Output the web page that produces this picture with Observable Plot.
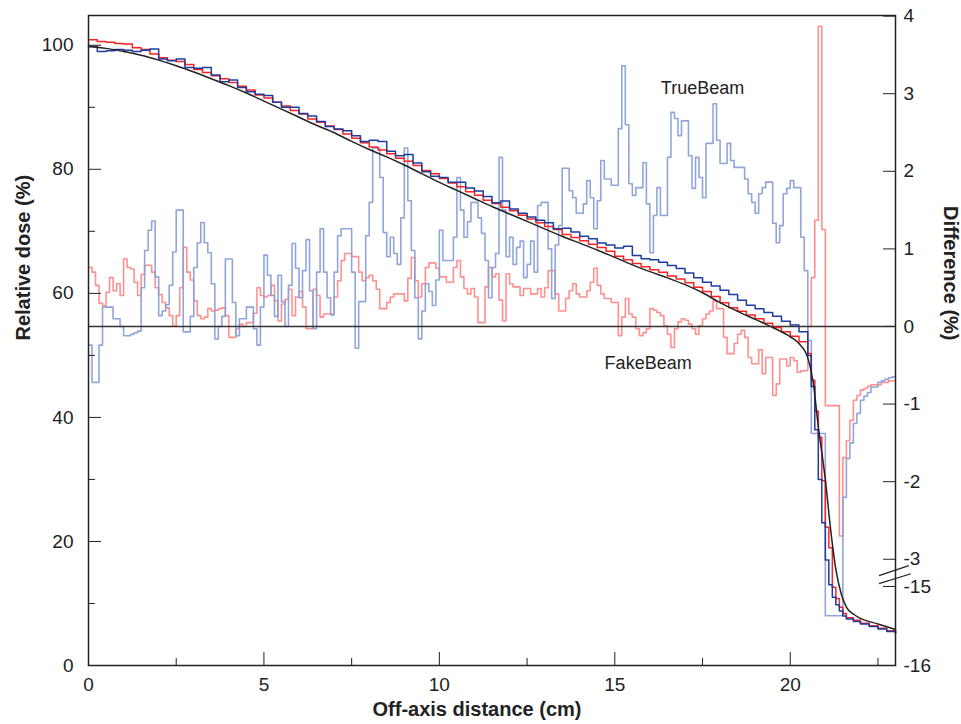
<!DOCTYPE html>
<html><head><meta charset="utf-8">
<script src="https://cdn.jsdelivr.net/npm/d3@7"></script>
<script src="https://cdn.jsdelivr.net/npm/@observablehq/plot@0.6"></script>
<style>body{margin:0;background:#fff;}</style>
</head><body><div id="chart"></div>
<script>
// ---- Difference curves (%), sampled every 0.1 cm from 0 to 23 cm ----
const DIFF_STEP = 0.1;
const trueBeamDiff = [
 -0.24,-0.72,-0.72,-0.24,0.25,0.25,0.25,0.1,0.1,0.0,
 -0.12,-0.12,-0.1,-0.08,-0.06,0.5,0.98,1.24,1.36,0.64,
 0.14,0.2,0.28,0.53,0.96,1.5,1.5,-0.07,-0.07,0.13,
 0.76,1.08,1.34,1.08,0.95,0.55,-0.16,0.0,0.13,0.87,
 0.87,0.31,-0.12,0.1,0.1,0.25,0.25,-0.03,-0.24,0.25,
 0.92,0.66,0.4,0.13,0.66,0.32,0.0,0.53,1.07,0.75,
 0.37,0.72,1.12,0.46,-0.03,0.7,1.26,0.7,0.37,0.15,
 0.7,1.17,1.26,1.26,1.26,0.7,-0.28,0.32,0.32,1.17,
 1.6,2.3,2.3,1.92,1.21,0.9,1.15,0.94,0.8,1.4,
 2.3,1.62,0.98,0.37,-0.16,0.2,0.55,0.45,0.27,0.6,
 1.24,0.85,0.85,0.85,1.15,1.92,1.5,1.15,1.35,1.6,
 1.6,1.4,1.2,0.85,0.37,0.76,0.94,2.18,1.5,0.9,
 1.15,0.8,1.02,1.1,0.63,0.8,1.1,0.7,1.56,1.6,
 1.6,1.0,0.36,1.05,1.3,2.04,2.04,1.75,1.66,1.46,
 1.46,1.58,1.88,1.66,1.26,1.62,2.14,1.9,1.9,1.82,
 1.82,2.55,3.36,2.6,1.84,1.69,1.79,1.79,2.11,1.58,
 0.95,1.43,1.79,1.43,1.43,2.18,2.76,2.68,2.46,2.65,
 2.65,2.2,1.78,2.18,1.92,1.66,2.36,2.36,2.87,2.4,
 2.1,2.1,2.36,2.14,2.05,2.05,2.05,1.9,1.71,1.6,
 1.46,1.71,1.79,1.86,1.86,1.33,1.08,1.3,1.71,1.78,
 1.88,1.79,1.79,1.15,0.72,-0.18,-1.38,-1.38,-1.38,-1.38,
 -15.37,-15.37,-15.37,-15.37,-15.37,-2.2,-1.7,-1.5,-1.25,-1.12,
 -0.95,-0.9,-0.85,-0.78,-0.78,-0.72,-0.7,-0.68,-0.66,-0.65,
 -0.65
];
const fakeBeamDiff = [
 0.76,0.7,0.53,0.3,0.27,0.44,0.63,0.46,0.55,0.4,
 0.87,0.76,0.74,0.57,0.4,0.67,0.79,0.79,0.7,0.5,
 0.41,0.31,0.24,0.14,0.01,0.14,0.5,1.02,0.7,0.6,
 0.33,0.14,0.1,0.12,0.23,0.2,0.21,0.23,0.24,0.14,
 -0.14,-0.14,-0.03,0.03,0.0,0.05,0.05,0.17,0.5,0.4,
 0.38,0.4,0.53,0.33,0.07,0.29,0.35,0.48,0.14,0.38,
 0.45,0.25,-0.03,-0.03,0.48,0.4,0.12,0.16,0.16,0.16,
 0.38,0.59,0.85,0.94,0.94,0.9,0.9,0.7,0.59,0.63,
 0.66,0.59,0.48,0.23,0.23,0.31,0.38,0.42,0.42,0.42,
 0.33,0.62,0.89,0.59,0.38,0.55,0.76,0.82,0.82,0.75,
 0.64,0.64,0.57,0.57,0.76,0.85,0.64,0.49,0.42,0.49,
 0.38,0.05,0.05,0.51,0.76,0.64,0.68,0.34,0.07,0.68,
 0.55,0.51,0.51,0.4,0.49,0.49,0.42,0.42,0.49,0.38,
 0.5,0.72,0.72,0.42,0.2,0.2,0.36,0.46,0.55,0.42,
 0.38,0.38,0.46,0.57,0.75,0.53,0.42,0.36,0.36,0.31,
 0.31,-0.12,0.12,0.36,0.16,0.12,-0.03,-0.12,-0.08,-0.03,
 0.23,0.21,0.18,0.14,0.01,-0.1,-0.27,-0.03,0.06,0.1,
 0.08,0.03,-0.03,-0.1,0.01,0.1,0.16,0.2,0.33,0.23,
 0.23,-0.14,-0.35,-0.35,-0.22,-0.1,-0.05,-0.14,-0.4,-0.48,
 -0.48,-0.3,-0.61,-0.4,-0.4,-0.89,-0.74,-0.42,-0.42,-0.51,
 -0.4,-0.44,-0.59,-0.57,-0.57,0.0,0.63,1.37,3.87,1.25,
 -1.02,-1.02,-1.02,-1.02,-2.7,-1.69,-1.47,-1.21,-0.95,-0.89,
 -0.82,-0.8,-0.77,-0.75,-0.75,-0.75,-0.72,-0.72,-0.7,-0.7,
 -0.7
];

// ---- Relative dose (%), sampled every 0.25 cm from 0 to 20.25 cm ----
const DOSE_STEP = 0.25;
const trueBeamDose = [
 99.8,99.0,99.1,99.3,99.2,99.0,99.2,99.4,97.8,97.5,97.8,96.4,96.3,96.4,95.2,94.1,
 94.4,93.2,92.5,92.1,91.9,90.8,90.0,90.0,89.0,88.6,87.7,86.9,86.5,86.2,85.4,84.5,
 84.7,84.5,82.9,82.2,82.4,81.0,79.6,78.9,78.7,77.9,77.9,77.0,76.5,75.6,74.6,74.9,
 73.6,72.9,72.3,71.8,71.4,70.4,70.5,69.9,69.2,68.8,68.1,67.8,67.3,67.6,66.1,65.6,
 65.4,65.0,64.5,64.0,63.3,62.5,61.8,61.2,60.5,59.8,58.9,58.1,57.5,56.9,56.3,55.5,
 54.9,53.8
];
const fakeBeamDose = [
 100.9,100.6,100.5,100.3,100.2,99.6,99.3,98.6,98.0,97.6,97.4,96.9,96.1,95.6,95.1,94.6,
 94.0,93.4,92.8,92.0,91.5,90.8,90.2,89.5,88.9,88.1,87.6,87.0,86.4,85.7,85.0,84.3,
 83.6,83.1,82.5,81.8,81.3,80.6,79.8,79.3,78.5,77.8,77.2,76.4,75.8,75.0,74.5,73.9,
 73.3,72.6,72.0,71.4,70.8,70.3,69.5,69.0,68.5,67.9,67.4,66.8,66.0,65.4,64.8,64.3,
 63.8,63.4,62.8,62.3,61.7,61.0,60.3,59.5,58.5,57.7,57.1,56.5,55.9,55.2,54.5,53.8,
 53.1,52.2
];
// penumbra / tail of the measured profiles
const tailX        = [20.5,20.6,20.7,20.8,20.9,21.0,21.1,21.2,21.3,21.4,21.5,21.6,21.8,22.0,22.25,22.5,22.75,23.0];
const fakeBeamTail = [50.3,46.0,41.0,36.8,29.8,22.3,19.0,12.6,10.8,9.4,8.4,7.7,7.3,6.8,6.4,6.0,5.6,5.2];
const trueBeamTail = [50.0,45.0,38.0,30.0,23.0,17.0,13.0,11.0,9.8,8.8,8.0,7.5,7.1,6.7,6.3,5.9,5.5,5.2];

// reference (smooth black) profile
const refX    = [0,0.5,1,1.5,2,2.5,3,3.5,4,4.5,5,5.5,6,6.5,7,7.5,8,8.5,9,9.5,10,10.5,11,11.5,12,12.5,13,13.5,14,14.5,15,15.5,16,16.5,17,17.5,18,18.5,19,19.5,20,20.25,20.5,20.65,20.8,21.0,21.15,21.3,21.45,21.6,21.8,22.0,22.5,23.0];
const refDose = [99.8,99.5,99.0,98.4,97.6,96.7,95.7,94.6,93.5,92.3,91.0,89.7,88.4,87.1,85.9,84.5,83.2,82.0,80.7,79.3,77.9,76.6,75.3,74.0,72.8,71.6,70.4,69.2,68.1,67.0,65.8,64.6,63.5,62.5,61.4,60.1,58.5,57.1,55.8,54.5,53.0,51.9,49.6,45.8,38.5,30.0,22.0,15.5,11.6,9.4,8.3,7.6,6.7,5.8];

// axes
const xMajorTicks = [0,5,10,15,20];
const xMinorTicks = [2.5,7.5,12.5,17.5,22.5];
const leftMajorTicks = [0,20,40,60,80,100];
const leftMinorTicks = [10,30,50,70,90];
const rightTicks = [-16,-15,-3,-2,-1,0,1,2,3,4];
const seriesLabels = [{name:"TrueBeam", x:17.5, y:93}, {name:"FakeBeam", x:15.95, y:48.7}];
const breakMarks = [{x1:22.53,y1:14.5,x2:23.38,y2:16.1},{x1:22.53,y1:13.2,x2:23.44,y2:14.8}];

// secondary (broken) axis: difference % -> left-axis units
const Y_MAX = 104.8, DIFF_ZERO = 54.66, DIFF_UNIT = 12.51, LOW_UNIT = 12.74;
function diffToY(d) {
  if (d >= -3) return DIFF_ZERO + DIFF_UNIT * d;
  if (d <= -15) return (d + 16) * LOW_UNIT;
  const top = DIFF_ZERO - 3 * DIFF_UNIT, bot = LOW_UNIT;
  return bot + (d + 15) / 12 * (top - bot);
}
const rightTickPos = rightTicks.map(diffToY);
const rightLabel = new Map(rightTicks.map(t => [diffToY(t), String(t)]));

const diffRows = (vals) => vals.map((d, i) => ({x: +(i * DIFF_STEP).toFixed(2), y: diffToY(d)}));
const doseRows = (vals, tail) => vals.map((v, i) => ({x: i * DOSE_STEP, y: v}))
  .concat(tail.map((v, i) => ({x: tailX[i], y: v})));
const refRows = refX.map((x, i) => ({x, y: refDose[i]}));

const font = "'Liberation Sans', Arial, sans-serif";
const chart = Plot.plot({
  width: 961, height: 724,
  marginLeft: 88, marginRight: 66, marginTop: 15, marginBottom: 59,
  x: {domain: [0, 23]},
  y: {domain: [0, Y_MAX]},
  style: {fontFamily: font, fontSize: "19px", color: "#222", background: "#fff"},
  marks: [
    Plot.line(diffRows(fakeBeamDiff), {x: "x", y: "y", curve: "step-after", stroke: "#ff9090", strokeWidth: 1.6}),
    Plot.line(diffRows(trueBeamDiff), {x: "x", y: "y", curve: "step-after", stroke: "#8aa1d8", strokeWidth: 1.6, strokeOpacity: 0.95}),
    Plot.ruleY([diffToY(0)], {stroke: "#333", strokeWidth: 1.5}),
    Plot.line(doseRows(fakeBeamDose, fakeBeamTail), {x: "x", y: "y", curve: "step-after", stroke: "#ff2222", strokeWidth: 1.5}),
    Plot.line(doseRows(trueBeamDose, trueBeamTail), {x: "x", y: "y", curve: "step-after", stroke: "#1c3c9e", strokeWidth: 1.5}),
    Plot.line(refRows, {x: "x", y: "y", curve: "monotone-x", stroke: "#222", strokeWidth: 1.5}),
    Plot.frame({stroke: "#222", strokeWidth: 1.5}),
    // x axis
    Plot.axisX({ticks: xMajorTicks, tickSize: -13, tickFormat: () => "", label: null, stroke: "#222"}),
    Plot.axisX({ticks: xMinorTicks, tickSize: -7, tickFormat: () => "", label: null, stroke: "#222"}),
    Plot.axisX({ticks: xMajorTicks, tickSize: 0, tickPadding: 12, label: null, fontSize: 19}),
    // left axis
    Plot.axisY({ticks: leftMajorTicks, tickSize: -13, tickFormat: () => "", label: null, stroke: "#222"}),
    Plot.axisY({ticks: leftMinorTicks, tickSize: -7, tickFormat: () => "", label: null, stroke: "#222"}),
    Plot.axisY({ticks: leftMajorTicks, tickSize: 0, tickPadding: 15, label: null, fontSize: 19}),
    // right axis (broken)
    Plot.axisY({anchor: "right", ticks: rightTickPos, tickSize: -13, tickFormat: () => "", label: null, stroke: "#222"}),
    Plot.axisY({anchor: "right", ticks: rightTickPos, tickSize: 0, tickPadding: 8, tickFormat: d => rightLabel.get(d), label: null, fontSize: 19}),
    Plot.link(breakMarks, {x1: "x1", y1: "y1", x2: "x2", y2: "y2", stroke: "#222", strokeWidth: 1.2}),
    // axis titles
    Plot.text(["Relative dose (%)"], {frameAnchor: "left", dx: -65, rotate: -90, fontWeight: "bold", fontSize: 20, text: d => d}),
    Plot.text(["Difference (%)"], {frameAnchor: "right", dx: 55, rotate: 90, fontWeight: "bold", fontSize: 20, text: d => d}),
    Plot.text(["Off-axis distance (cm)"], {frameAnchor: "bottom", dx: -15, dy: 50, fontWeight: "bold", fontSize: 20, text: d => d}),
    // series labels
    Plot.text(seriesLabels, {x: "x", y: "y", text: "name", fontSize: 18, fill: "#222"})
  ]
});
document.getElementById("chart").append(chart);
</script>
</body></html>
